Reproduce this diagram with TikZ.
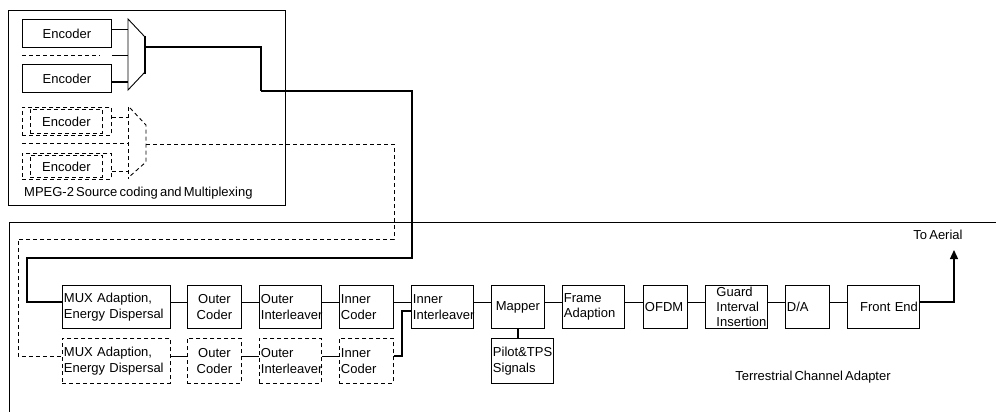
\documentclass[tikz,border=0pt]{standalone}
\usepackage{fontspec}
\setmainfont{Liberation Sans}[WordSpace=0.6]
\usetikzlibrary{arrows.meta}
\hyphenpenalty=10000
\exhyphenpenalty=10000
\begin{document}
\begin{tikzpicture}[x=1pt,y=-1pt,
  ln/.style={line width=0.9pt},
  thk/.style={line width=1.6pt},
  med/.style={line width=1.25pt},
  dsh/.style={dash pattern=on 4pt off 3pt},
  txt/.style={font=\fontsize{13}{15}\selectfont, inner sep=0pt},
  blk/.style={draw, ln, inner xsep=1.5pt, inner ysep=0pt, minimum height=43pt,
    anchor=north west, font=\fontsize{13}{15.5}\selectfont},
  tblk/.style={blk, minimum height=45pt},
  encbox/.style={draw, ln, inner sep=0pt, anchor=north west, font=\fontsize{13}{15}\selectfont},
]
\useasboundingbox (0,0) rectangle (996,412);

% ---- outer frames ----
\draw[ln] (8,10) rectangle (285,205);
\draw[ln] (1000,222) -- (9,222) -- (9,416);

% ---- row coordinates ----
\coordinate (r1) at (0,302);
\coordinate (r2) at (0,356);
\coordinate (r3) at (0,311);

% ---- encoders ----
\node[encbox, minimum width=89pt, minimum height=28pt] (e1) at (22,19) {Encoder};
\node[encbox, minimum width=89pt, minimum height=28pt] (e2) at (22,64) {Encoder};
\node[encbox, dsh, minimum width=89pt, minimum height=28pt] (e3o) at (22,107) {};
\node[encbox, dsh, minimum width=72pt, minimum height=24pt] (e3) at (30,109) {Encoder};
\node[encbox, dsh, minimum width=89pt, minimum height=26pt] (e4o) at (22,153) {};
\node[encbox, dsh, minimum width=72pt, minimum height=22pt] (e4) at (30,155) {Encoder};

% ---- multiplexers ----
\coordinate (mo) at (145,47);
\coordinate (dmo) at (146,144);
\draw[ln] (128,19) -- (145,37) -- (145,72) -- (128,90) -- cycle;
\draw[thk] (145,36) -- (145,74);
\draw[ln,dsh] (128,107) -- (128,179);
\draw[ln,dsh] (130,108) -- (146,125) -- (146,162) -- (129,177);

\coordinate (m1) at (128,29);
\coordinate (m2) at (128,82);
\coordinate (m3) at (128,55);
\coordinate (m4) at (128,117);
\coordinate (m5) at (128,171);
\coordinate (m6) at (128,143);
\draw[ln] (e1.east |- m1) -- (m1);
\draw[thk] (e2.east |- m2) -- (m2);
\draw[ln,dsh] (e1.west |- m3) -- ++(78,0);
\draw[ln] (e1.east |- m3) -- (m3);
\draw[ln,dsh] (e3o.east |- m4) -- (m4);
\draw[ln,dsh] (e4o.east |- m5) -- (m5);
\draw[ln,dsh] (e1.west |- m6) -- (m6);

\node[txt, anchor=west] (mpeg) at (24,193) {MPEG-2 Source coding and Multiplexing};

% ---- main chain ----
\node[blk, text width=105pt, align=left] (mux) at (62,285) {MUX Adaption,\\Energy Dispersal};
\node[blk, text width=51pt, align=center] (oc) at (187,285) {Outer\\Coder};
\node[blk, text width=59pt, align=left] (oi) at (259,285) {Outer\\\mbox{Interleaver}};
\node[blk, text width=51pt, align=left] (ic) at (339,285) {Inner\\Coder};
\node[blk, text width=59pt, align=left] (ii) at (411,285) {Inner\\\mbox{Interleaver}};
\node[blk, text width=50pt, align=center] (map) at (491,285) {Mapper};
\node[tblk, text width=59pt, align=left] (pil) at (491,338) {\mbox{Pilot\&TPS}\\Signals};
\node[blk, text width=59pt, align=left] (fa) at (562,285) {Frame\\Adaption};
\node[blk, text width=41pt, align=left] (ofdm) at (643,285) {OFDM};
\node[blk, text width=59pt, align=left] (gd) at (705,285)
  {\hspace*{9.5pt}\mbox{Guard}\\[-0.5pt]\hspace*{9.5pt}\mbox{Interval}\\[-0.5pt]\hspace*{9.5pt}\mbox{Insertion}};
\node[blk, text width=41pt, align=left] (da) at (785,285) {D/A};
\node[blk, text width=69pt, align=right] (fe) at (847,285) {\mbox{Front End}};

% ---- dashed chain ----
\node[tblk, dsh, text width=105pt, align=left] (dmux) at (62,338) {MUX Adaption,\\Energy Dispersal};
\node[tblk, dsh, text width=51pt, align=center] (doc) at (187,338) {Outer\\Coder};
\node[tblk, dsh, text width=59pt, align=left] (doi) at (259,338) {Outer\\\mbox{Interleaver}};
\node[tblk, dsh, text width=51pt, align=left] (dic) at (339,338) {Inner\\Coder};

% ---- chain connectors ----
\foreach \a/\b in {mux/oc, oc/oi, oi/ic, ic/ii, ii/map, map/fa, fa/ofdm, ofdm/gd, gd/da, da/fe}
  \draw[ln] (\a.east |- r1) -- (\b.west |- r1);
\foreach \a/\b in {dmux/doc, doc/doi, doi/dic}
  \draw[ln] (\a.east |- r2) -- (\b.west |- r2);
\draw[med] (map.south) -- (pil.north -| map.south);
\draw[med] (dic.east |- r2) -- (402,356) -- (402,311) -- (ii.west |- r3);

% ---- stream routes ----
\draw[thk] (mo) -- (261,47) -- (261,91);
\draw[med] (261,91) -- (412,91) -- (412,258) -- (27,258) -- (27,302) -- (mux.west |- r1);
\draw[ln,dsh] (dmo) -- (394,144) -- (394,239) -- (18,239) -- (18,356) -- (dmux.west |- r2);

% ---- aerial ----
\coordinate (aer) at (954,250);
\draw[med, -{Triangle[length=9pt,width=8pt]}] (fe.east |- r1) -- (954,302) -- (aer);
\node[txt] (toa) at (938,235) {To Aerial};
\node[txt] (tca) at (813,377) {Terrestrial Channel Adapter};
\end{tikzpicture}
\end{document}
